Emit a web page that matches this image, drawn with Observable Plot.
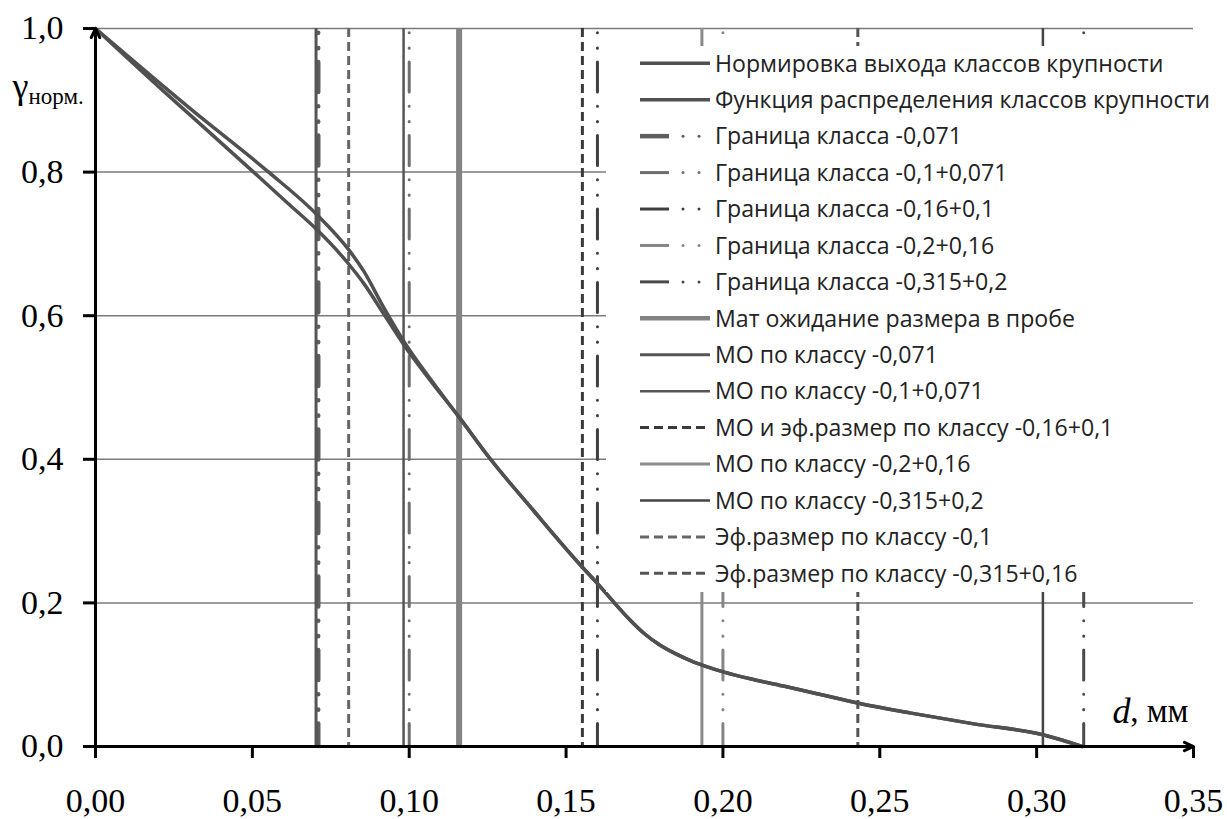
<!DOCTYPE html>
<html><head><meta charset="utf-8">
<script src="https://cdn.jsdelivr.net/npm/d3@7"></script>
<script src="https://cdn.jsdelivr.net/npm/@observablehq/plot@0.6"></script>
<style>
html,body{margin:0;padding:0;background:#fff;}
#chart{position:relative;width:1227px;height:819px;overflow:hidden;}
#chart svg{font-family:'Liberation Serif','Times New Roman',serif;}
</style></head><body><div id="chart"></div>
<script>
// ---- data ----
const xDomain = [0, 0.35];
const yDomain = [0, 1];
const xTicks = [0, 0.05, 0.10, 0.15, 0.20, 0.25, 0.30, 0.35];
const yTicks = [0, 0.2, 0.4, 0.6, 0.8, 1.0];
const gridY = [0.2, 0.4, 0.6, 0.8, 1.0];

// shared tail of both curves (d > 0.11 mm)
const tailD = [0.1159, 0.1258, 0.1396, 0.1552, 0.1601, 0.1654, 0.170, 0.175, 0.180, 0.185, 0.190, 0.195, 0.2004, 0.210, 0.220, 0.230, 0.2436, 0.260, 0.280, 0.302, 0.3145];
const tailG = [0.4587, 0.4007, 0.3287, 0.2497, 0.2266, 0.200, 0.178, 0.157, 0.141, 0.129, 0.119, 0.111, 0.1035, 0.093, 0.0835, 0.0735, 0.0600, 0.0465, 0.0315, 0.0163, 0];
// Нормировка выхода классов крупности (head)
const normHeadD = [0, 0.0196, 0.0303, 0.0504, 0.0621, 0.0703, 0.0807, 0.0855, 0.0918, 0.0982, 0.1067];
const normHeadG = [1, 0.921, 0.879, 0.800, 0.7535, 0.721, 0.672, 0.645, 0.603, 0.560, 0.510];
// Функция распределения классов крупности (head)
const funcHeadD = [0, 0.0196, 0.0303, 0.0552, 0.0703, 0.0807, 0.0855, 0.0918, 0.0982, 0.1067];
const funcHeadG = [1, 0.927, 0.888, 0.800, 0.742, 0.692, 0.662, 0.612, 0.565, 0.512];

const legendLabels = [
  "Нормировка выхода классов крупности",
  "Функция распределения классов крупности",
  "Граница класса -0,071",
  "Граница класса -0,1+0,071",
  "Граница класса -0,16+0,1",
  "Граница класса -0,2+0,16",
  "Граница класса -0,315+0,2",
  "Мат ожидание размера в пробе",
  "МО по классу -0,071",
  "МО по классу -0,1+0,071",
  "МО и эф.размер по классу -0,16+0,1",
  "МО по классу -0,2+0,16",
  "МО по классу -0,315+0,2",
  "Эф.размер по классу -0,1",
  "Эф.размер по классу -0,315+0,16"
];
// vertical line positions (mm), same order as legend (null = curve)
const lineX = [null, null, 0.071, 0.1, 0.16, 0.2, 0.315, 0.1159, 0.0703, 0.0982, 0.1552, 0.1933, 0.302, 0.0807, 0.243];

// ---- styles ----
const DDD = "0.1 15.3 0.1 13.7 30 14.3";
const styles = [
  {stroke: "#505050", w: 3.5, kind: "solid"},
  {stroke: "#505050", w: 3.5, kind: "solid"},
  {stroke: "#5e5e5e", w: 4.5, kind: "ddd"},
  {stroke: "#6e6e6e", w: 3, kind: "ddd"},
  {stroke: "#3e3e3e", w: 3, kind: "ddd"},
  {stroke: "#858585", w: 3, kind: "ddd"},
  {stroke: "#4a4a4a", w: 3, kind: "ddd"},
  {stroke: "#838383", w: 6, kind: "solid"},
  {stroke: "#555555", w: 3, kind: "solid"},
  {stroke: "#555555", w: 2.5, kind: "solid"},
  {stroke: "#3a3a3a", w: 3, kind: "dash"},
  {stroke: "#8a8a8a", w: 3, kind: "solid"},
  {stroke: "#444444", w: 2.5, kind: "solid"},
  {stroke: "#666666", w: 3, kind: "dash"},
  {stroke: "#555555", w: 3, kind: "dash"}
];
function dashOf(s) {
  if (s.kind === "ddd") return {strokeDasharray: DDD, strokeLinecap: "round", strokeDashoffset: -4.7};
  if (s.kind === "dash") return {strokeDasharray: "9 5"};
  return {};
}
const SERIF = "'Liberation Serif', 'Times New Roman', serif";
const SANS = "'Open Sans', sans-serif";

const fmt2 = d => d3.format(".2f")(d).replace(".", ",");
const fmt1 = d => d3.format(".1f")(d).replace(".", ",");
const normData = normHeadD.map((d, i) => ({d, g: normHeadG[i]})).concat(tailD.map((d, i) => ({d, g: tailG[i]})));
const funcData = funcHeadD.map((d, i) => ({d, g: funcHeadG[i]})).concat(tailD.map((d, i) => ({d, g: tailG[i]})));

const vlineMarks = [];
lineX.forEach((x, i) => {
  if (x == null) return;
  const s = styles[i];
  vlineMarks.push(Plot.ruleX([x], {y1: yDomain[1], y2: yDomain[0], stroke: s.stroke, strokeWidth: s.w, ...dashOf(s)}));
});

const W = 1227, H = 819;
const mL = 95, mR = 34, mT = 28, mB = 73;

const plot = Plot.plot({
  width: W, height: H,
  marginLeft: mL, marginRight: mR, marginTop: mT, marginBottom: mB,
  x: {domain: xDomain, label: null},
  y: {domain: yDomain, label: null},
  style: {fontFamily: SERIF, fontSize: "34px", background: "white", color: "black", overflow: "visible"},
  marks: [
    Plot.ruleY(gridY, {stroke: "#7a7a7a", strokeWidth: 1.5}),
    ...vlineMarks,
    Plot.line(funcData, {x: "d", y: "g", stroke: styles[1].stroke, strokeWidth: styles[1].w, curve: "monotone-x"}),
    Plot.line(normData, {x: "d", y: "g", stroke: styles[0].stroke, strokeWidth: styles[0].w, curve: "monotone-x"}),
    Plot.axisX(xTicks, {tickFormat: fmt2, tickSize: 12, tickPadding: 29, strokeWidth: 3, stroke: "black", fontSize: 34, fontFamily: SERIF, label: null}),
    Plot.axisY(yTicks, {tickFormat: fmt1, tickSize: 12, tickPadding: 20, strokeWidth: 3, stroke: "black", fontSize: 34, fontFamily: SERIF, label: null}),
    Plot.arrow([0], {x1: xDomain[0], y1: yDomain[0], x2: xDomain[0], y2: yDomain[1], stroke: "black", strokeWidth: 3, headLength: 5, headAngle: 50}),
    Plot.arrow([0], {x1: xDomain[0], y1: yDomain[0], x2: xDomain[1], y2: yDomain[0], stroke: "black", strokeWidth: 3, headLength: 5, headAngle: 50}),
    Plot.text(["γ"], {frameAnchor: "top-left", dx: -83, dy: 58, textAnchor: "start", lineAnchor: "middle", fontSize: 36, fontFamily: SERIF}),
    Plot.text(["норм."], {frameAnchor: "top-left", dx: -67, dy: 68, textAnchor: "start", lineAnchor: "middle", fontSize: 23, fontFamily: SERIF}),
    Plot.text(["d"], {frameAnchor: "bottom-right", dx: -63, dy: -35, textAnchor: "end", lineAnchor: "middle", fontSize: 36, fontStyle: "italic", fontFamily: SERIF}),
    Plot.text([", мм"], {frameAnchor: "bottom-right", dx: -5, dy: -35, textAnchor: "end", lineAnchor: "middle", fontSize: 33, fontFamily: SERIF})
  ]
});
document.getElementById("chart").appendChild(plot);
d3.select(plot).selectAll("g[aria-label='x-axis tick label'] text, g[aria-label='y-axis tick label'] text, g[aria-label='text'] text")
  .style("font-family", SERIF);

// ---- legend (drawn over the plot, opaque white) ----
const svg = d3.select(plot);
const lg = svg.append("g").attr("class", "legend");
const boxX = 606, boxY = 46, boxW = W - boxX, boxH = 546;
lg.append("rect").attr("x", boxX).attr("y", boxY).attr("width", boxW).attr("height", boxH)
  .attr("fill", "#ffffff").style("fill", "#ffffff").style("stroke", "none");
const row0 = 63.3, rowStep = 36.43, sx0 = 640, sx1 = 710, tx = 715;
const texts = [];
legendLabels.forEach((lab, i) => {
  const y = row0 + i * rowStep;
  const s = styles[i];
  const w = Math.min(s.w, 4.5);
  if (s.kind === "ddd") {
    lg.append("line").attr("x1", sx0).attr("x2", sx0 + 29).attr("y1", y).attr("y2", y)
      .attr("stroke", s.stroke).attr("stroke-width", w);
    [683, 699].forEach(cx => lg.append("circle").attr("cx", cx).attr("cy", y).attr("r", 1.5).attr("fill", s.stroke));
  } else {
    const ln = lg.append("line").attr("x1", sx0).attr("x2", sx1).attr("y1", y).attr("y2", y)
      .attr("stroke", s.stroke).attr("stroke-width", i === 7 ? 4.5 : w);
    if (s.kind === "dash") ln.attr("stroke-dasharray", "9 5");
  }
  const t = lg.append("text").attr("x", tx).attr("y", y).attr("dy", "0.36em")
    .attr("text-anchor", "start").style("text-anchor", "start")
    .style("fill", "#222").style("font-family", SANS).style("font-size", "22px")
    .text(lab);
  texts.push(t);
});
// fit the longest label to the reference width
const longest = texts[1].node().getComputedTextLength();
const fs = 22 * 495 / longest;
texts.forEach(t => t.style("font-size", fs.toFixed(2) + "px"));
</script></body></html>
